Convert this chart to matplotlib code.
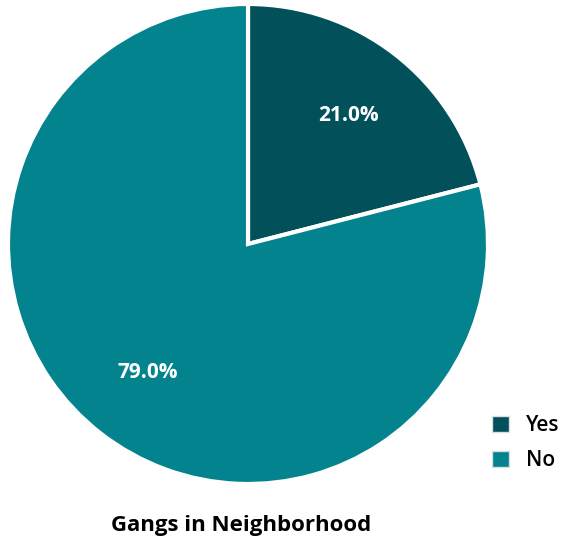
import matplotlib
matplotlib.use('Agg')
from matplotlib import pyplot as plt
from matplotlib.patches import Patch

labels = ["Yes", "No"]
values = [21.0, 79.0]
colors = ["#02505A", "#02838E"]
title = "Gangs in Neighborhood"

plt.rcParams['font.family'] = ['Open Sans', 'DejaVu Sans']

fig = plt.figure(figsize=(5.62, 5.42), dpi=100)
# pie area in pixel terms: center (248, 244), radius ~240
ax = fig.add_axes([8 / 562, (542 - 484) / 542, 480 / 562, 480 / 542])

wedges, texts, autotexts = ax.pie(
    values, colors=colors, startangle=90, counterclock=False,
    autopct='%1.1f%%', pctdistance=0.68,
    wedgeprops=dict(edgecolor='white', linewidth=3),
    textprops=dict(color='white', fontsize=15, fontweight='bold'))
ax.set_xlim(-1.0, 1.0)
ax.set_ylim(-1.0, 1.0)
ax.set_aspect('equal')

handles = [Patch(facecolor=c, edgecolor='#dddddd', linewidth=1) for c in colors]
fig.legend(handles, labels, loc='center left', bbox_to_anchor=(492 / 562, 1 - 443 / 542),
           frameon=False, borderpad=0, borderaxespad=0,
           handlelength=0.8, handleheight=0.8,
           handletextpad=0.85, labelspacing=0.65,
           prop=dict(size=15, weight='semibold'))

fig.text(241 / 562, 1 - 526 / 542, title, ha='center', va='center',
         fontsize=16, fontweight='bold')

fig.savefig("out.png", dpi=100)
